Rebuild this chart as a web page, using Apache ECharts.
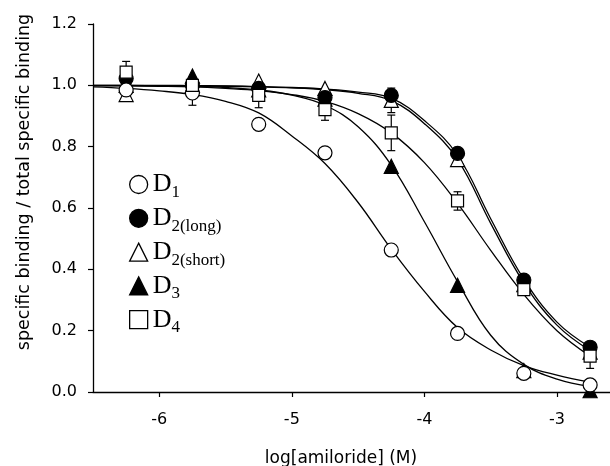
<!DOCTYPE html>
<html>
<head>
<meta charset="utf-8">
<script src="https://cdn.jsdelivr.net/npm/echarts@6/dist/echarts.min.js"></script>
<style>
html, body { margin: 0; padding: 0; background: #fff; }
#chart { width: 610px; height: 466px; }
</style>
</head>
<body>
<div id="chart"></div>
<script>
// measured points
const logConc = [-6.25, -5.75, -5.25, -4.75, -4.25, -3.75, -3.25, -2.75];
const d1 = [0.985, 0.975, 0.873, 0.78, 0.463, 0.191, 0.061, 0.023];
const d2Long = [1.022, 1.0, 0.99, 0.96, 0.967, 0.778, 0.365, 0.146];
const d2Short = [0.97, 1.0, 1.014, 0.99, 0.951, 0.758, 0.35, 0.13];
const d3 = [1.0, 1.03, 0.985, 0.955, 0.736, 0.348, 0.07, 0.004];
const d4 = [1.043, 1.0, 0.967, 0.921, 0.845, 0.623, 0.334, 0.117];

// error bars (+/-)
const d1Err = [0, 0.04, 0, 0, 0, 0, 0, 0];
const d2ShortErr = [0, 0, 0, 0, 0.04, 0, 0, 0];
const d4Err = [0.035, 0.01, 0.04, 0.035, 0.058, 0.03, 0.01, 0.04];

// fitted curves
const fitX = [-6.5, -6.25, -6, -5.75, -5.5, -5.25, -5, -4.75, -4.5, -4.25, -4, -3.75, -3.5, -3.25, -3, -2.75];
const d1Fit = [0.995, 0.99, 0.982, 0.97, 0.948, 0.91, 0.835, 0.745, 0.618, 0.466, 0.328, 0.21, 0.137, 0.086, 0.055, 0.032];
const d2LongFit = [1.0, 1.0, 1.0, 0.999, 0.998, 0.996, 0.993, 0.988, 0.978, 0.958, 0.885, 0.772, 0.565, 0.368, 0.228, 0.146];
const d2ShortFit = [0.999, 0.999, 0.999, 0.998, 0.997, 0.995, 0.992, 0.986, 0.974, 0.95, 0.875, 0.758, 0.55, 0.356, 0.218, 0.135];
const d3Fit = [1.0, 1.0, 0.999, 0.997, 0.993, 0.985, 0.968, 0.935, 0.865, 0.74, 0.555, 0.36, 0.185, 0.09, 0.042, 0.018];
const d4Fit = [0.999, 0.998, 0.997, 0.995, 0.99, 0.983, 0.97, 0.948, 0.908, 0.845, 0.748, 0.615, 0.462, 0.318, 0.2, 0.117];

const xTicks = [-6, -5, -4, -3];
const yTicks = [0, 0.2, 0.4, 0.6, 0.8, 1.0, 1.2];
const names = ['D1', 'D2(long)', 'D2(short)', 'D3', 'D4'];

const pairs = (xs, ys) => xs.map((x, i) => [x, ys[i]]);
const sans = 'DejaVu Sans, Arial, sans-serif';
const serif = 'Liberation Serif, Times New Roman, serif';

function fitLine(ys) {
  return {
    type: 'line', data: pairs(fitX, ys), smooth: 0.4, symbol: 'none', silent: true, z: 2,
    lineStyle: { color: '#000', width: 1.3 }
  };
}

function points(name, ys, symbol, size, fill) {
  return {
    type: 'scatter', name: name, data: pairs(logConc, ys), symbol: symbol, symbolSize: size, z: 4,
    itemStyle: { color: fill, borderColor: '#000', borderWidth: 1.2, opacity: 1 }
  };
}

function errBars(ys, errs) {
  return {
    type: 'custom', silent: true, z: 3,
    encode: { x: 0, y: 1 },
    data: logConc.map((x, i) => [x, ys[i], errs[i]]).filter(d => d[2] > 0),
    renderItem: function (params, api) {
      const x = api.value(0), y = api.value(1), e = api.value(2);
      const top = api.coord([x, y + e]);
      const bot = api.coord([x, y - e]);
      const w = 4;
      const st = { stroke: '#000', lineWidth: 1.2 };
      return {
        type: 'group',
        children: [
          { type: 'line', shape: { x1: top[0], y1: top[1], x2: bot[0], y2: bot[1] }, style: st },
          { type: 'line', shape: { x1: top[0] - w, y1: top[1], x2: top[0] + w, y2: top[1] }, style: st },
          { type: 'line', shape: { x1: bot[0] - w, y1: bot[1], x2: bot[0] + w, y2: bot[1] }, style: st }
        ]
      };
    }
  };
}

const chart = echarts.init(document.getElementById('chart'));
chart.setOption({
  animation: false,
  backgroundColor: '#fff',
  grid: { left: 93, right: 0, top: 24, bottom: 74, outerBoundsMode: 'none', containLabel: false },
  legend: {
    orient: 'vertical', left: 129, top: 168, padding: 0,
    itemWidth: 18, itemHeight: 18, itemGap: 0.8, selectedMode: false,
    itemStyle: { borderWidth: 1.3 },
    data: [
      { name: names[0], icon: 'circle' },
      { name: names[1], icon: 'circle' },
      { name: names[2], icon: 'triangle' },
      { name: names[3], icon: 'triangle' },
      { name: names[4], icon: 'rect' }
    ],
    formatter: name => '{d|D}{s|' + name.slice(1) + '}',
    textStyle: {
      color: '#000',
      rich: {
        d: { fontFamily: serif, fontSize: 26, lineHeight: 26, color: '#000' },
        s: { fontFamily: serif, fontSize: 17, lineHeight: 17, padding: [16, 0, 0, 0], color: '#000' }
      }
    }
  },
  xAxis: {
    type: 'value', min: -6.5, max: -2.6,
    axisLine: { onZero: false, lineStyle: { color: '#000', width: 1.3 } },
    axisTick: { customValues: xTicks, length: 5, lineStyle: { color: '#000', width: 1.2 } },
    axisLabel: { customValues: xTicks, margin: 20, color: '#000', fontSize: 16, fontFamily: sans },
    splitLine: { show: false },
    name: 'log[amiloride] (M)', nameLocation: 'middle', nameGap: 58,
    nameTextStyle: { color: '#000', fontSize: 17, fontFamily: sans, padding: [0, 21, 0, 0] }
  },
  yAxis: {
    type: 'value', min: 0, max: 1.2,
    axisLine: { show: true, onZero: false, lineStyle: { color: '#000', width: 1.3 } },
    axisTick: { show: true, customValues: yTicks, length: 5, lineStyle: { color: '#000', width: 1.2 } },
    axisLabel: { customValues: yTicks, margin: 16, color: '#000', fontSize: 16, fontFamily: sans, formatter: v => v.toFixed(1) },
    splitLine: { show: false },
    name: 'specific binding / total specific binding', nameLocation: 'middle', nameGap: 60,
    nameTextStyle: { color: '#000', fontSize: 17.5, fontFamily: sans, padding: [0, 0, 0, 52] }
  },
  series: [
    fitLine(d1Fit), fitLine(d2LongFit), fitLine(d2ShortFit), fitLine(d3Fit), fitLine(d4Fit),
    errBars(d1, d1Err), errBars(d2Short, d2ShortErr), errBars(d4, d4Err),
    points(names[2], d2Short, 'triangle', 14, '#fff'),
    points(names[3], d3, 'triangle', 14, '#000'),
    points(names[1], d2Long, 'circle', 14, '#000'),
    points(names[0], d1, 'circle', 14, '#fff'),
    points(names[4], d4, 'rect', 12, '#fff')
  ]
});
</script>
</body>
</html>
